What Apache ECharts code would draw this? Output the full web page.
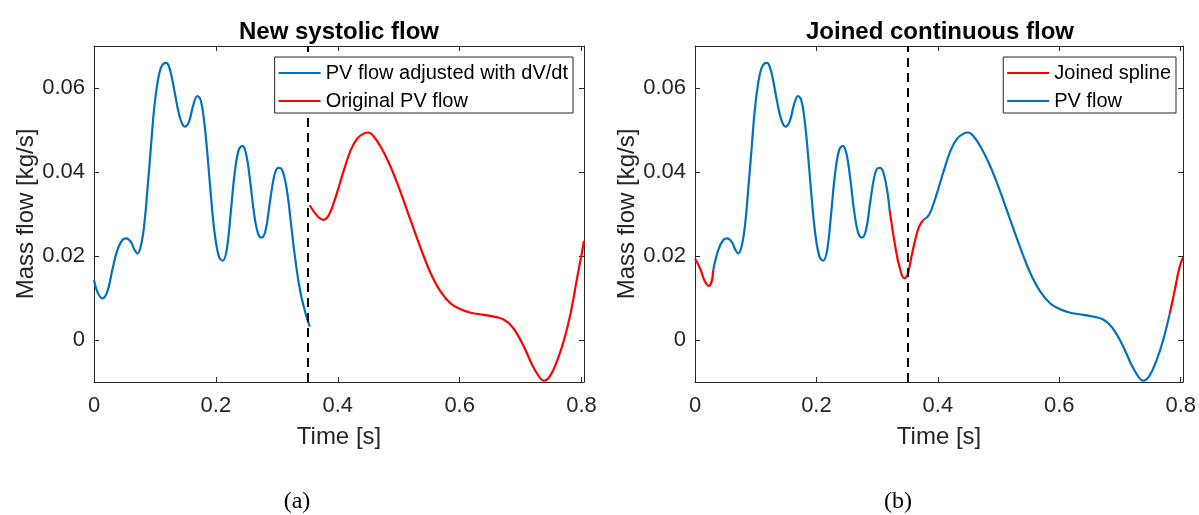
<!DOCTYPE html>
<html>
<head>
<meta charset="utf-8">
<script src="https://cdn.jsdelivr.net/npm/echarts@6/dist/echarts.min.js"></script>
<style>
html,body{margin:0;padding:0;background:#fff;}
#chart{width:1199px;height:515px;}
</style>
</head>
<body>
<div id="chart"></div>
<script>
// ---- data (time [s], mass flow [kg/s]) ----
const adjustedFlow = [
  [0.0000, 0.0143], [0.0055, 0.0115], [0.0137, 0.0099], [0.0219, 0.0115], [0.0301, 0.0167],
  [0.0383, 0.0214], [0.0465, 0.0238], [0.0531, 0.0242], [0.0602, 0.0234], [0.0668, 0.0214],
  [0.0712, 0.0206], [0.0766, 0.0222], [0.0821, 0.0270], [0.0876, 0.0357], [0.0930, 0.0452],
  [0.0985, 0.0548], [0.1040, 0.0611], [0.1094, 0.0647], [0.1149, 0.0659], [0.1187, 0.0660],
  [0.1231, 0.0651], [0.1286, 0.0619], [0.1357, 0.0564], [0.1422, 0.0524], [0.1488, 0.0508],
  [0.1559, 0.0520], [0.1630, 0.0560], [0.1696, 0.0581], [0.1751, 0.0571], [0.1805, 0.0524],
  [0.1860, 0.0444], [0.1915, 0.0349], [0.1980, 0.0254], [0.2051, 0.0198], [0.2112, 0.0189],
  [0.2177, 0.0214], [0.2243, 0.0302], [0.2308, 0.0397], [0.2374, 0.0452], [0.2434, 0.0462],
  [0.2494, 0.0444], [0.2560, 0.0381], [0.2626, 0.0302], [0.2691, 0.0254], [0.2751, 0.0244],
  [0.2817, 0.0262], [0.2883, 0.0325], [0.2954, 0.0389], [0.3009, 0.0409], [0.3047, 0.0410],
  [0.3107, 0.0397], [0.3173, 0.0349], [0.3238, 0.0270], [0.3304, 0.0191], [0.3380, 0.0119],
  [0.3457, 0.0071], [0.3540, 0.0032]
];
const originalFlow = [
  [0.3540, 0.0321], [0.3665, 0.0295], [0.3763, 0.0286], [0.3856, 0.0298], [0.3966, 0.0341],
  [0.4102, 0.0405], [0.4212, 0.0452], [0.4321, 0.0480], [0.4430, 0.0492], [0.4502, 0.0494],
  [0.4594, 0.0484], [0.4704, 0.0460], [0.4841, 0.0421], [0.4977, 0.0373], [0.5114, 0.0318],
  [0.5251, 0.0262], [0.5388, 0.0208], [0.5524, 0.0159], [0.5688, 0.0115], [0.5852, 0.0087],
  [0.6016, 0.0073], [0.6181, 0.0065], [0.6399, 0.0060], [0.6618, 0.0054], [0.6720, 0.0049],
  [0.6820, 0.0038], [0.6919, 0.0020], [0.7055, -0.0016], [0.7192, -0.0060], [0.7302, -0.0087],
  [0.7384, -0.0097], [0.7482, -0.0086], [0.7603, -0.0048], [0.7712, 0.0000], [0.7821, 0.0064],
  [0.7931, 0.0151], [0.8013, 0.0214], [0.8040, 0.0236]
];
const splineStart = [
  [0.0000, 0.0194], [0.0082, 0.0171], [0.0164, 0.0139], [0.0230, 0.0129], [0.0274, 0.0139],
  [0.0301, 0.0167]
];
const splineMid = [
  [0.3205, 0.0310], [0.3309, 0.0214], [0.3374, 0.0171], [0.3445, 0.0147], [0.3500, 0.0155],
  [0.3555, 0.0191], [0.3626, 0.0238], [0.3691, 0.0270], [0.3763, 0.0286]
];
const splineEnd = [
  [0.7821, 0.0064], [0.7903, 0.0119], [0.7957, 0.0159], [0.8001, 0.0183], [0.8040, 0.0197]
];
const dividerTime = 0.354;
const xTicks = [0, 0.2, 0.4, 0.6, 0.8];
const yTicks = [0, 0.02, 0.04, 0.06];
const xMin = 0, xMax = 0.804, yMin = -0.01, yMax = 0.07;

// ---- build right-plot PV flow pieces from the same curves ----
const s1End = splineStart[splineStart.length - 1];
const s2Start = splineMid[0];
const s2End = splineMid[splineMid.length - 1];
const s3Start = splineEnd[0];
const pvSeg1 = [s1End].concat(adjustedFlow.filter(p => p[0] > s1End[0] && p[0] < s2Start[0]), [s2Start]);
const pvSeg2 = [s2End].concat(originalFlow.filter(p => p[0] > s2End[0] && p[0] < s3Start[0]), [s3Start]);

const BLUE = '#0072BD', RED = '#FF0000', AX = '#262626';
const FONT = 'Liberation Sans';

function xAxis(grid, pos, withLabels) {
  return {
    type: 'value', gridIndex: grid, position: pos, min: xMin, max: xMax,
    name: withLabels ? 'Time [s]' : '', nameLocation: 'middle', nameGap: 43,
    nameTextStyle: { fontFamily: FONT, fontSize: 24, color: AX },
    axisLine: { show: true, onZero: false, lineStyle: { color: AX, width: 1 } },
    axisTick: { show: true, inside: true, length: 5, customValues: xTicks, lineStyle: { color: AX } },
    axisLabel: { show: withLabels, customValues: xTicks, margin: 13, fontFamily: FONT, fontSize: 22, color: AX,
      formatter: v => String(+(+v).toFixed(2)) },
    splitLine: { show: false }
  };
}
function yAxis(grid, pos, withLabels) {
  return {
    type: 'value', gridIndex: grid, position: pos, min: yMin, max: yMax,
    name: withLabels ? 'Mass flow [kg/s]' : '', nameLocation: 'middle', nameGap: 55,
    nameTextStyle: { fontFamily: FONT, fontSize: 24, color: AX },
    axisLine: { show: true, onZero: false, lineStyle: { color: AX, width: 1 } },
    axisTick: { show: true, inside: true, length: 5, customValues: yTicks, lineStyle: { color: AX } },
    axisLabel: { show: withLabels, customValues: yTicks, margin: 9, fontFamily: FONT, fontSize: 22, color: AX,
      formatter: v => (Math.abs(v) < 1e-9 ? '0' : (+v).toFixed(2)) },
    splitLine: { show: false }
  };
}
function lineSeries(name, data, color, xi, yi, extra) {
  return Object.assign({
    type: 'line', name: name, data: data, xAxisIndex: xi, yAxisIndex: yi,
    symbol: 'none', showSymbol: false, smooth: 0.4, clip: true,
    lineStyle: { color: color, width: 2.2 }, itemStyle: { color: color },
    animation: false, silent: true
  }, extra || {});
}
const dividerMark = {
  markLine: {
    symbol: ['none', 'none'], silent: true, animation: false,
    label: { show: false },
    lineStyle: { color: '#000', type: [9, 6], width: 2 },
    data: [{ xAxis: dividerTime }]
  }
};
const legendBase = {
  orient: 'vertical', top: 57, icon: 'rect', itemWidth: 42, itemHeight: 2, itemGap: 6,
  padding: [5, 5, 1, 4], borderColor: AX, borderWidth: 1, backgroundColor: '#fff',
  selectedMode: false, z: 10,
  textStyle: { fontFamily: FONT, fontSize: 20, color: '#000', lineHeight: 22, height: 22 }
};

const option = {
  animation: false,
  backgroundColor: '#fff',
  title: [
    { text: 'New systolic flow', left: 339, top: 20, textAlign: 'center', padding: 0,
      textStyle: { fontFamily: FONT, fontSize: 24, fontWeight: 'bold', color: '#000' } },
    { text: 'Joined continuous flow', left: 940, top: 20, textAlign: 'center', padding: 0,
      textStyle: { fontFamily: FONT, fontSize: 24, fontWeight: 'bold', color: '#000' } },
    { text: '(a)', left: 297, top: 490, textAlign: 'center', padding: 0,
      textStyle: { fontFamily: 'Liberation Serif', fontSize: 24, fontWeight: 'normal', color: '#000' } },
    { text: '(b)', left: 898, top: 490, textAlign: 'center', padding: 0,
      textStyle: { fontFamily: 'Liberation Serif', fontSize: 24, fontWeight: 'normal', color: '#000' } }
  ],
  grid: [
    { left: 94, top: 46, width: 490, height: 336 },
    { left: 695, top: 46, width: 490, height: 336 }
  ],
  xAxis: [xAxis(0, 'bottom', true), xAxis(0, 'top', false), xAxis(1, 'bottom', true), xAxis(1, 'top', false)],
  yAxis: [yAxis(0, 'left', true), yAxis(0, 'right', false), yAxis(1, 'left', true), yAxis(1, 'right', false)],
  legend: [
    Object.assign({}, legendBase, { right: 626, data: ['PV flow adjusted with dV/dt', 'Original PV flow'] }),
    Object.assign({}, legendBase, { right: 23, data: ['Joined spline', 'PV flow'] })
  ],
  series: [
    lineSeries('PV flow adjusted with dV/dt', adjustedFlow, BLUE, 0, 0),
    lineSeries('Original PV flow', originalFlow, RED, 0, 0, dividerMark),
    lineSeries('PV flow', pvSeg1, BLUE, 2, 2),
    lineSeries('PV flow', pvSeg2, BLUE, 2, 2),
    lineSeries('Joined spline', splineStart, RED, 2, 2),
    lineSeries('Joined spline', splineMid, RED, 2, 2, dividerMark),
    lineSeries('Joined spline', splineEnd, RED, 2, 2)
  ]
};
const chart = echarts.init(document.getElementById('chart'), null, { renderer: 'canvas' });
chart.setOption(option);
</script>
</body>
</html>
